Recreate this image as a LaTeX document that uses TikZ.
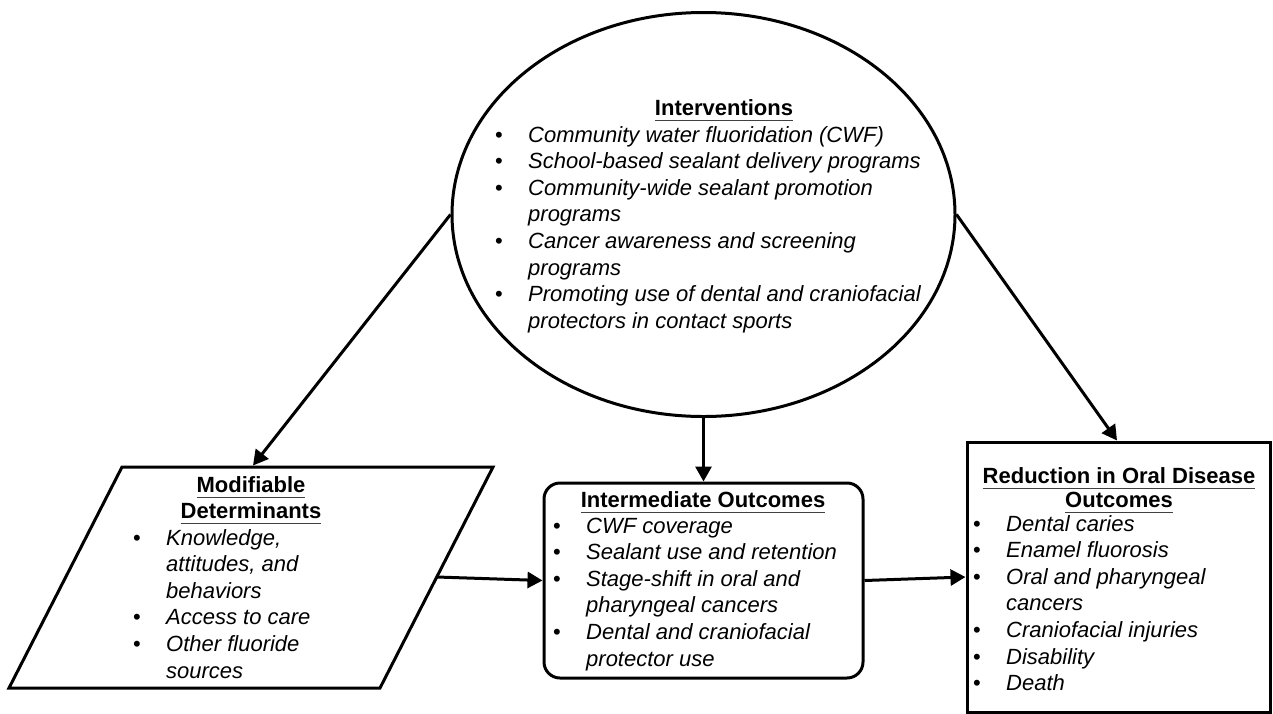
\documentclass[tikz,border=0pt]{standalone}
\usepackage{fontspec}
\setmainfont{Liberation Sans}
\usetikzlibrary{arrows.meta,shapes.geometric}
\newcommand\bul{\llap{\upshape •\hspace{25.5pt}}}
\newcommand\hul[1]{\setbox0\hbox{#1}\rlap{\textcolor{black!75}{\rule[-6.2pt]{\wd0}{1.1pt}}}\box0}
\newcommand\blk[1]{\vtop{\baselineskip=26.6pt\lineskiplimit=-100pt\lineskip=0pt #1}}
\newcommand\bline[1]{\hbox{#1}}
\tikzset{
  box/.style={draw, line width=3pt, inner sep=0pt},
  arr/.style={line width=3pt, -{Triangle[length=15pt,width=16pt]}},
  head/.style={anchor=base, inner sep=0pt, font=\fontsize{22}{26.6}\selectfont\bfseries},
  items/.style={anchor=base west, inner sep=0pt, font=\fontsize{22}{26.6}\selectfont\itshape},
}
\begin{document}
\begin{tikzpicture}[x=1pt,y=-1pt]
\useasboundingbox (0,0) rectangle (1273,713);
% shapes
\node[box, ellipse, minimum width=503pt, minimum height=404pt] (int) at (703.5,214.5) {};
\node[box, rounded corners=16pt, minimum width=319pt, minimum height=195pt] (io) at (703.5,580.5) {};
\node[box, minimum width=303pt, minimum height=270pt] (red) at (1118.5,577) {};
\coordinate (p1) at (9,688);
\coordinate (p2) at (122,467);
\coordinate (p3) at (493,467);
\coordinate (p4) at (380,688);
\draw[line width=3pt, line join=miter] (p1) -- (p2) -- (p3) -- (p4) -- cycle;
\coordinate (mdtop) at (253,465.5);
\coordinate (mdright) at (437,577);
\coordinate (redtop) at (1117,440.5);
% connectors
\draw[arr] (int.west) -- (mdtop);
\draw[arr] (int.south) -- (io.north);
\draw[arr] (int.east) -- (redtop);
\draw[arr] (mdright) -- (io.west);
\draw[arr] (io.east) -- (red.west);
% texts: interventions
\node[head] (inth) at (724,115) {\hul{Interventions}};
\node[items] (intl) at (528,142) {\blk{%
\bline{\bul Community water fluoridation (CWF)}
\bline{\bul School-based sealant delivery programs}
\bline{\bul Community-wide sealant promotion}
\bline{programs}
\bline{\bul Cancer awareness and screening}
\bline{programs}
\bline{\bul Promoting use of dental and craniofacial}
\bline{protectors in contact sports}}};
% modifiable determinants
\node[head] (mdh1) at (251,492) {\hul{Modifiable}};
\node[head] (mdh2) at (251,518) {\hul{Determinants}};
\node[items] (mdl) at (166,545) {\blk{%
\bline{\bul Knowledge,}
\bline{attitudes, and}
\bline{behaviors}
\bline{\bul Access to care}
\bline{\bul Other fluoride}
\bline{sources}}};
% intermediate outcomes
\node[head] (ioh) at (703,507) {\hul{Intermediate Outcomes}};
\node[items] (iol) at (586,533) {\blk{%
\bline{\bul CWF coverage}
\bline{\bul Sealant use and retention}
\bline{\bul Stage-shift in oral and}
\bline{pharyngeal cancers}
\bline{\bul Dental and craniofacial}
\bline{protector use}}};
% reduction
\node[head] (rh1) at (1119,483) {\hul{Reduction in Oral Disease}};
\node[head] (rh2) at (1119,507) {\hul{Outcomes}};
\node[items] (rl) at (1006,531) {\blk{%
\bline{\bul Dental caries}
\bline{\bul Enamel fluorosis}
\bline{\bul Oral and pharyngeal}
\bline{cancers}
\bline{\bul Craniofacial injuries}
\bline{\bul Disability}
\bline{\bul Death}}};
\end{tikzpicture}
\end{document}
